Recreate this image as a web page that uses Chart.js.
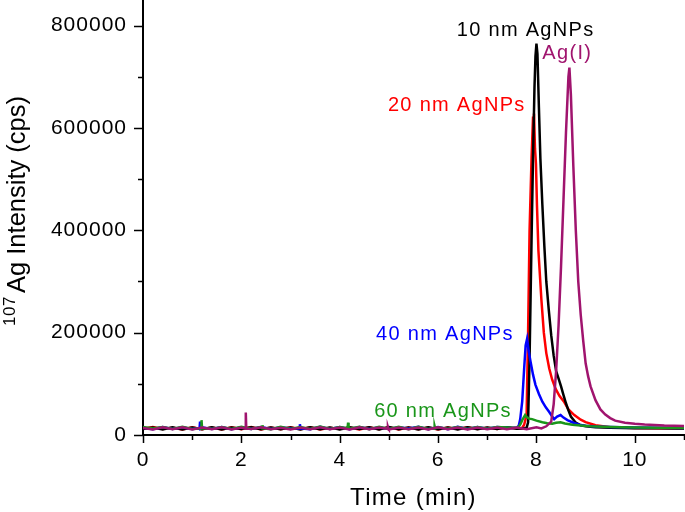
<!DOCTYPE html>
<html>
<head>
<meta charset="utf-8">
<script src="https://cdn.jsdelivr.net/npm/chart.js@4.4.1/dist/chart.umd.min.js"></script>
<style>
  body { margin: 0; background: #fff; }
  #wrap { width: 685px; height: 512px; }
</style>
</head>
<body>
<div id="wrap"><canvas id="agChart" width="685" height="512"></canvas></div>
<script>
// axis tick labels
const xTickValues = [0, 2, 4, 6, 8, 10];
const yTickValues = [0, 200000, 400000, 600000, 800000];

// Time (min) grid for the flat part of the traces, before the peaks
const baseTime = [0, 0.2, 0.4, 0.6, 0.8, 1.0, 1.2, 1.4, 1.6, 1.8, 2.0, 2.2, 2.4, 2.6, 2.8, 3.0, 3.2, 3.4, 3.6,
    3.8, 4.0, 4.2, 4.4, 4.6, 4.8, 5.0, 5.2, 5.4, 5.6, 5.8, 6.0, 6.2, 6.4, 6.6, 6.8, 7.0, 7.2, 7.4];

// Ag(I)
const agIBase = [13500, 10800, 14900, 11100, 15200, 10900, 14600, 11200, 15000, 10700, 14400, 11800, 15000,
    11100, 14300, 10900, 14700, 11100, 14900, 11200, 14800, 10600, 15000, 11100, 14500, 10900, 14800, 11200,
    14600, 11000, 14900, 11300, 14800, 10700, 14400, 11100, 14800, 11300];
const agISpikeTime = [2.08, 2.09, 2.10, 4.97, 4.98, 4.99];
const agISpikeVal = [12300, 44000, 12400, 12200, 15500, 12300];
const agIPeakTime = [7.6, 7.8, 8.0, 8.1, 8.2, 8.3, 8.35, 8.4, 8.45, 8.5, 8.55, 8.6, 8.65, 8.67, 8.7, 8.75, 8.8,
    8.85, 8.9, 8.95, 9.0, 9.05, 9.1, 9.2, 9.3, 9.4, 9.5, 9.6, 9.8, 10.0, 10.2, 10.4, 10.6, 10.8, 11.0];
const agIPeakVal = [14600, 11200, 15000, 12800, 17000, 26000, 60000, 125000, 215000, 330000, 460000, 590000,
    700000, 718000, 665000, 525000, 400000, 300000, 235000, 185000, 140000, 115000, 95000, 68000, 50000, 40000,
    33000, 28000, 24000, 22000, 20500, 19500, 18500, 18000, 17500];

// 10 nm AgNPs
const np10Base = [11500, 14800, 11000, 15300, 10900, 14600, 11200, 15000, 10600, 14400, 11900, 15100, 11200,
    14800, 11500, 14700, 11000, 15100, 11300, 14700, 10800, 15200, 11600, 14900, 11000, 15400, 11100, 14700,
    10800, 14900, 11300, 14600, 11000, 15100, 11200, 14500, 11800, 15000];
const np10PeakTime = [7.6, 7.7, 7.8, 7.83, 7.86, 7.9, 7.93, 7.96, 7.98, 8.0, 8.02, 8.05, 8.08, 8.12, 8.16, 8.2,
    8.25, 8.3, 8.35, 8.4, 8.45, 8.5, 8.55, 8.6, 8.65, 8.7, 8.8, 8.9, 9.0, 9.2, 9.5, 10.0, 10.5, 11.0];
const np10PeakVal = [12400, 12800, 14000, 25000, 150000, 380000, 540000, 680000, 740000, 765000, 745000, 640000,
    540000, 450000, 370000, 300000, 245000, 195000, 155000, 125000, 110000, 95000, 78000, 62000, 48000, 36000,
    24000, 19000, 17000, 15000, 14000, 13000, 13000, 12500];

// 20 nm AgNPs
const np20Base = [12200, 15600, 11700, 14300, 10900, 15000, 11100, 14500, 10800, 14900, 11200, 15600, 10700,
    14400, 11100, 15000, 11500, 14900, 10800, 14300, 11600, 14800, 10900, 15200, 11400, 15000, 10900, 14500,
    11300, 14700, 10800, 14400, 11900, 15100, 11600, 14300, 11800, 15200];
const np20PeakTime = [7.6, 7.7, 7.75, 7.8, 7.83, 7.86, 7.9, 7.93, 7.95, 7.97, 7.99, 8.01, 8.04, 8.1, 8.15, 8.2,
    8.26, 8.32, 8.39, 8.47, 8.56, 8.65, 8.77, 8.9, 9.0, 9.2, 9.5, 10.0, 10.5, 11.0];
const np20PeakVal = [12600, 13000, 20000, 40000, 200000, 400000, 540000, 620000, 628000, 560000, 530000, 450000,
    360000, 265000, 200000, 160000, 130000, 108000, 90000, 76000, 65000, 50000, 39000, 30000, 25000, 19000,
    15000, 13500, 13000, 12500];

// 40 nm AgNPs
const np40Base = [14000, 11400, 15600, 11800, 15300, 11600, 15100, 11900, 15700, 11500, 15200, 11800, 15400,
    11700, 15000, 12500, 15600, 11200, 15900, 11600, 15700, 11100, 15400, 11800, 15300, 11600, 15000, 12500,
    15900, 11200, 15700, 11400, 16000, 11800, 15500, 12100, 15600, 14200];
const np40SpikeTime = [1.15, 1.16, 1.17, 3.18, 3.19, 3.20];
const np40SpikeVal = [13000, 26000, 12900, 13100, 21000, 13000];
const np40PeakTime = [7.5, 7.6, 7.64, 7.67, 7.71, 7.75, 7.78, 7.81, 7.84, 7.88, 7.93, 7.98, 8.05, 8.12, 8.19,
    8.26, 8.32, 8.36, 8.42, 8.49, 8.55, 8.63, 8.75, 8.87, 9.0, 9.2, 9.5, 10.0, 10.5, 11.0];
const np40PeakVal = [13500, 14500, 18000, 31000, 65000, 130000, 175000, 188000, 165000, 143000, 118000, 98000,
    80000, 65000, 54000, 45000, 36000, 31000, 36000, 39000, 34000, 29000, 24000, 20000, 18000, 16500, 15500,
    14500, 14000, 13500];

// 60 nm AgNPs
const np60Base = [15900, 12500, 15600, 11800, 16100, 11700, 15400, 12000, 15600, 11800, 16300, 11900, 15900,
    11500, 16200, 11700, 15600, 12000, 16400, 11800, 15700, 12100, 15900, 11500, 16200, 11800, 15900, 11400,
    16100, 11600, 15000, 12300, 15700, 11900, 15500, 12200, 15800, 14500];
const np60SpikeTime = [1.18, 1.19, 1.20, 2.42, 2.43, 2.44, 4.16, 4.17, 4.18, 5.92, 5.93, 5.94];
const np60SpikeVal = [13000, 29000, 13100, 13200, 19000, 13000, 13100, 24000, 13200, 13000, 17000, 13100];
const np60PeakTime = [7.5, 7.6, 7.64, 7.68, 7.71, 7.74, 7.77, 7.8, 7.85, 7.91, 8.0, 8.12, 8.22, 8.32, 8.4, 8.49,
    8.58, 8.73, 8.9, 9.1, 9.35, 9.7, 10.0, 10.5, 11.0];
const np60PeakVal = [14000, 14800, 16000, 22000, 29000, 34000, 39000, 35000, 32000, 31000, 28000, 25000, 23000,
    22000, 24000, 25000, 22500, 20000, 18500, 17000, 16000, 15000, 14500, 14000, 13500];

// in-plot labels: text, left edge (min), baseline (cps)
const labelText = ['10 nm AgNPs', 'Ag(I)', '20 nm AgNPs', '40 nm AgNPs', '60 nm AgNPs'];
const labelTime = [6.38, 8.12, 4.98, 4.74, 4.70];
const labelCps = [779000, 734000, 634000, 186000, 35000];

const colours = {
    agI: '#a0146e',
    np10: '#000000',
    np20: '#ff0000',
    np40: '#0000ff',
    np60: '#1a961a',
};
const labelColours = [colours.np10, colours.agI, colours.np20, colours.np40, colours.np60];
const fontFamily = '"Liberation Sans", Arial, Helvetica, sans-serif';

function toPoints(...parts) {
    const pts = [];
    parts.forEach(([times, values]) => {
        times.forEach((t, i) => pts.push({ x: t, y: values[i] }));
    });
    return pts.sort((a, b) => a.x - b.x);
}

function makeDataset(points, colour) {
    return {
        data: points,
        borderColor: colour,
        backgroundColor: colour,
        borderWidth: 2.5,
        pointRadius: 0,
        tension: 0,
        fill: false,
    };
}

const decorPlugin = {
    id: 'decor',
    beforeDraw(chart) {
        chart.ctx.letterSpacing = '1px';
    },
    afterDraw(chart) {
        const ctx = chart.ctx;
        const xs = chart.scales.x;
        const ys = chart.scales.y;
        ctx.save();

        // tick marks, long on labelled values and short between them
        ctx.strokeStyle = '#000';
        ctx.lineWidth = 1.5;
        ctx.beginPath();
        for (let v = 0; v <= 11; v++) {
            const px = Math.round(xs.getPixelForValue(v)) + 0.5;
            const len = v % 2 === 0 ? 8 : 5;
            ctx.moveTo(px, xs.top);
            ctx.lineTo(px, xs.top + len);
        }
        for (let v = 0; v <= 800000; v += 100000) {
            const py = Math.round(ys.getPixelForValue(v)) + 0.5;
            const len = v % 200000 === 0 ? 9 : 5;
            ctx.moveTo(ys.right - len, py);
            ctx.lineTo(ys.right, py);
        }
        ctx.stroke();

        // series labels
        ctx.font = `20px ${fontFamily}`;
        ctx.letterSpacing = '1.3px';
        ctx.textAlign = 'left';
        ctx.textBaseline = 'alphabetic';
        labelText.forEach((text, i) => {
            ctx.fillStyle = labelColours[i];
            ctx.fillText(text, xs.getPixelForValue(labelTime[i]), ys.getPixelForValue(labelCps[i]));
        });

        // x axis title
        ctx.fillStyle = '#000';
        ctx.font = `24px ${fontFamily}`;
        ctx.letterSpacing = '1.3px';
        ctx.textAlign = 'center';
        ctx.fillText('Time (min)', (xs.left + xs.right) / 2, xs.bottom - 7);

        // y axis title with superscript mass number
        ctx.translate(25, 214);
        ctx.rotate(-Math.PI / 2);
        ctx.textAlign = 'left';
        ctx.font = `17px ${fontFamily}`;
        ctx.letterSpacing = '0.5px';
        ctx.fillText('107', -112, -10);
        ctx.font = `25.5px ${fontFamily}`;
        ctx.letterSpacing = '0px';
        ctx.fillText('Ag Intensity (cps)', -79, 0);

        ctx.restore();
    },
};

new Chart(document.getElementById('agChart').getContext('2d'), {
    type: 'line',
    data: {
        datasets: [
            makeDataset(toPoints([baseTime, agIBase], [agISpikeTime, agISpikeVal], [agIPeakTime, agIPeakVal]), colours.agI),
            makeDataset(toPoints([baseTime, np60Base], [np60SpikeTime, np60SpikeVal], [np60PeakTime, np60PeakVal]), colours.np60),
            makeDataset(toPoints([baseTime, np40Base], [np40SpikeTime, np40SpikeVal], [np40PeakTime, np40PeakVal]), colours.np40),
            makeDataset(toPoints([baseTime, np10Base], [np10PeakTime, np10PeakVal]), colours.np10),
            makeDataset(toPoints([baseTime, np20Base], [np20PeakTime, np20PeakVal]), colours.np20),
        ],
    },
    options: {
        responsive: false,
        animation: false,
        events: [],
        layout: { padding: { top: 0, right: 1, left: 0, bottom: 0 } },
        plugins: {
            legend: { display: false },
            tooltip: { enabled: false },
        },
        scales: {
            x: {
                type: 'linear',
                min: 0,
                max: 11,
                afterBuildTicks: (s) => {
                    s.ticks = xTickValues.map((v) => ({ value: v }));
                },
                ticks: {
                    autoSkip: false,
                    maxRotation: 0,
                    padding: 13,
                    color: '#000',
                    font: { family: fontFamily, size: 21 },
                    callback: (v) => String(v),
                },
                grid: { display: true, drawOnChartArea: false, drawTicks: false },
                border: { display: true, color: '#000', width: 2 },
                afterFit: (s) => {
                    s.height = 77;
                    s.paddingLeft = 0;
                    s.paddingRight = 0;
                },
            },
            y: {
                type: 'linear',
                min: 0,
                max: 850000,
                afterBuildTicks: (s) => {
                    s.ticks = yTickValues.map((v) => ({ value: v }));
                },
                ticks: {
                    autoSkip: false,
                    padding: 16,
                    color: '#000',
                    font: { family: fontFamily, size: 21 },
                    callback: (v) => String(v),
                },
                grid: { display: true, drawOnChartArea: false, drawTicks: false },
                border: { display: true, color: '#000', width: 2 },
                afterFit: (s) => {
                    s.width = 143;
                    s.paddingTop = 0;
                    s.paddingBottom = 0;
                },
            },
        },
    },
    plugins: [decorPlugin],
});
</script>
</body>
</html>
